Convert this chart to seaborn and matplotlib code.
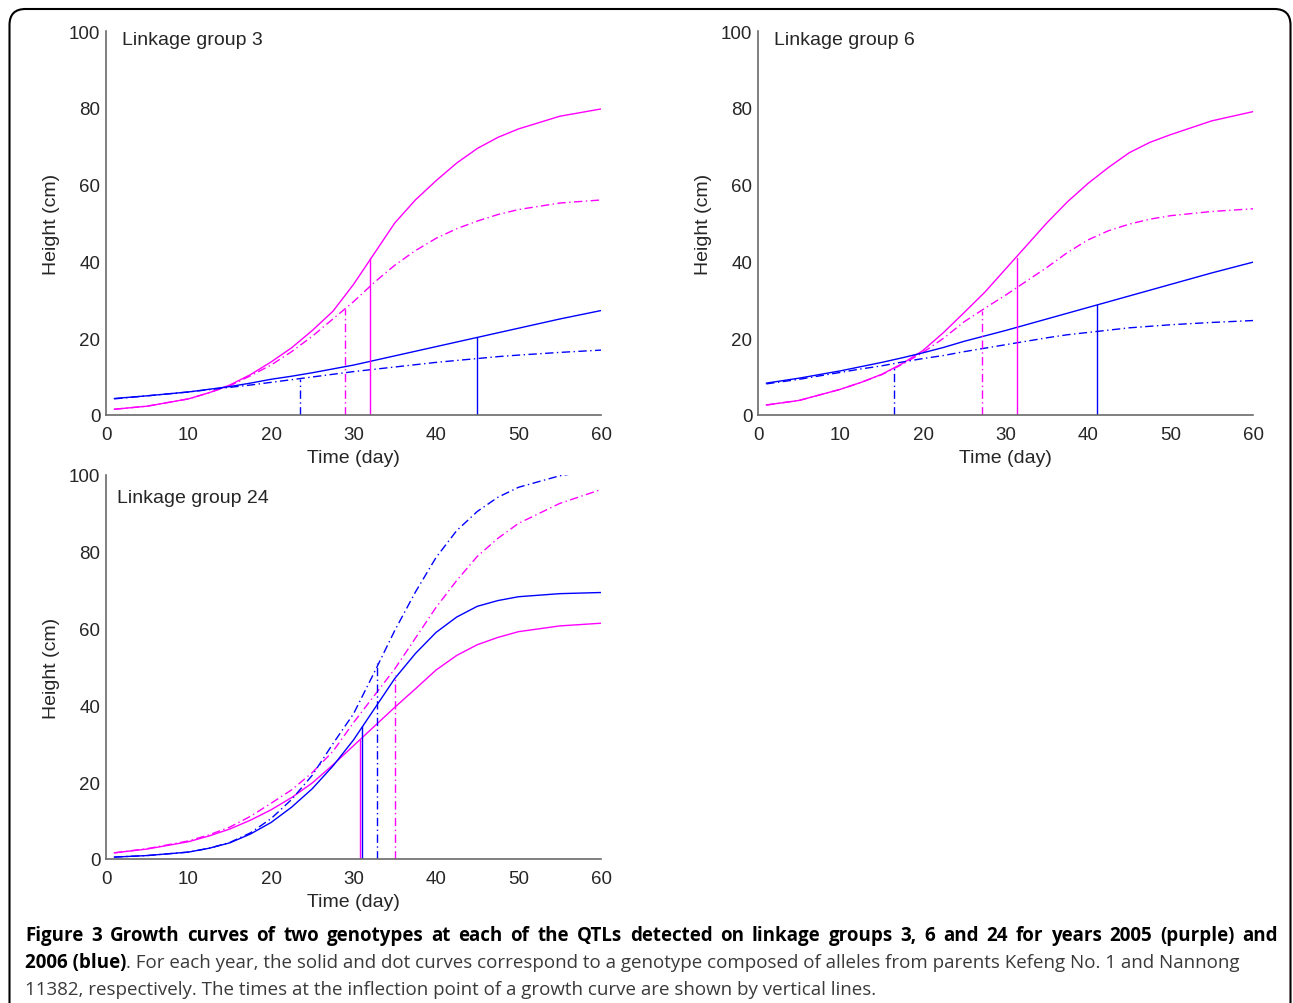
import pandas as pd
import matplotlib
matplotlib.use("Agg")
import matplotlib.pyplot as plt
import seaborn as sns
from matplotlib.patches import FancyBboxPatch
from matplotlib.transforms import IdentityTransform

# -----------------------------
# Data (height in cm at each day)
# -----------------------------
days = [1, 5, 10, 12.5, 15, 17.5, 20, 22.5, 25, 27.5, 30, 32.5, 35, 37.5, 40, 42.5, 45, 47.5, 50, 55, 60]

# Linkage group 3
lg3_2005_kefeng = [1.5, 2.3, 4.2, 5.8, 7.8, 10.5, 13.8, 17.5, 22, 27, 34, 42, 50, 56, 61, 65.6, 69.4, 72.3, 74.5, 77.8, 79.7]
lg3_2005_nannong = [1.5, 2.3, 4.2, 5.8, 7.6, 10.2, 13, 16.5, 20.5, 25, 29.5, 34.5, 39, 42.8, 46, 48.5, 50.5, 52.2, 53.5, 55.2, 56]
lg3_2006_kefeng = [4.3, 5.0, 6.0, 6.7, 7.4, 8.3, 9.3, 10.1, 11.0, 12.0, 13.0, 14.2, 15.4, 16.6, 17.8, 19.0, 20.2, 21.4, 22.6, 25.0, 27.2]
lg3_2006_nannong = [4.2, 5.0, 6.0, 6.6, 7.2, 7.8, 8.5, 9.2, 9.9, 10.6, 11.3, 11.9, 12.5, 13.1, 13.7, 14.2, 14.7, 15.2, 15.6, 16.3, 16.9]

# Linkage group 6
lg6_2005_kefeng = [2.6, 3.8, 6.7, 8.5, 10.6, 13.4, 16.8, 21.5, 26.7, 32, 38, 44, 50, 55.5, 60.3, 64.5, 68.3, 71, 73, 76.6, 79]
lg6_2005_nannong = [2.6, 3.8, 6.7, 8.5, 10.5, 13.2, 16.3, 20, 24.3, 27.8, 31.2, 34.8, 38.4, 42.3, 45.6, 48, 49.7, 51, 51.9, 53, 53.7]
lg6_2006_kefeng = [8.3, 9.6, 11.5, 12.6, 13.7, 14.9, 16.2, 17.6, 19.2, 20.6, 22, 23.5, 25, 26.5, 28, 29.5, 31, 32.5, 34, 37, 39.8]
lg6_2006_nannong = [8.1, 9.3, 11.1, 12.0, 12.8, 13.8, 14.7, 15.5, 16.5, 17.4, 18.3, 19.2, 20.1, 20.9, 21.5, 22.1, 22.7, 23.1, 23.5, 24.1, 24.6]

# Linkage group 24
lg24_2005_kefeng = [1.6, 2.6, 4.5, 6.0, 7.8, 10.1, 12.8, 16, 19.8, 24.5, 29.5, 34.5, 39.5, 44.3, 49.2, 53, 55.8, 57.7, 59.2, 60.7, 61.4]
lg24_2005_nannong = [1.6, 2.7, 4.7, 6.3, 8.3, 11.1, 14.5, 18, 22.5, 28, 35.5, 42.5, 49.5, 57.5, 65.5, 72.5, 78.8, 83.5, 87.4, 92.6, 96.2]
lg24_2006_kefeng = [0.5, 0.9, 1.8, 2.8, 4.2, 6.5, 9.5, 13.5, 18.3, 24.2, 31, 39, 47, 53.5, 59, 63, 65.8, 67.3, 68.3, 69.1, 69.4]
lg24_2006_nannong = [0.5, 0.9, 1.8, 2.8, 4.3, 6.8, 10.5, 15.5, 21.8, 30, 37.8, 48.5, 59.5, 69.5, 78.5, 85.5, 90.5, 94.2, 96.8, 99.8, 101.5]

# inflection points, order: 2005 Kefeng, 2005 Nannong, 2006 Kefeng, 2006 Nannong
lg3_infl_days = [32, 29, 45, 23.5]
lg3_infl_heights = [41, 27.5, 20.2, 9.5]
lg6_infl_days = [31.4, 27.1, 41.1, 16.5]
lg6_infl_heights = [41, 27, 28.6, 13]
lg24_infl_days = [30.8, 35, 31, 32.9]
lg24_infl_heights = [31, 48, 34.7, 51]

years = ["2005", "2005", "2006", "2006"]
genotypes = ["Kefeng No. 1", "Nannong 11382", "Kefeng No. 1", "Nannong 11382"]

panels = [
    ("Linkage group 3", [lg3_2005_kefeng, lg3_2005_nannong, lg3_2006_kefeng, lg3_2006_nannong],
     lg3_infl_days, lg3_infl_heights),
    ("Linkage group 6", [lg6_2005_kefeng, lg6_2005_nannong, lg6_2006_kefeng, lg6_2006_nannong],
     lg6_infl_days, lg6_infl_heights),
    ("Linkage group 24", [lg24_2005_kefeng, lg24_2005_nannong, lg24_2006_kefeng, lg24_2006_nannong],
     lg24_infl_days, lg24_infl_heights),
]

# -----------------------------
# Style
# -----------------------------
year_colors = {"2005": "#ff00ff", "2006": "#0000ff"}
dashdot = (6, 2.5, 1, 2.5)
geno_dashes = {"Kefeng No. 1": "", "Nannong 11382": dashdot}

sns.set_style("white")
plt.rcParams["font.family"] = ["Liberation Sans", "DejaVu Sans"]
spine_col = "#6a6a6a"

W, H = 1293, 1004
fig = plt.figure(figsize=(W / 100, H / 100), dpi=100)

ax_rects = [
    (106 / W, 1 - 416 / H, 495 / W, 384 / H),
    (758 / W, 1 - 416 / H, 495 / W, 384 / H),
    (106 / W, 1 - 860 / H, 495 / W, 384 / H),
]
title_pos = [(0.032, 0.999), (0.032, 0.999), (0.022, 0.964)]

for (title, series, infl_d, infl_h), rect, tpos in zip(panels, ax_rects, title_pos):
    ax = fig.add_axes(rect)
    rows = []
    for vals, yr, gt in zip(series, years, genotypes):
        for d, v in zip(days, vals):
            rows.append({"day": d, "height": v, "year": yr, "genotype": gt})
    df = pd.DataFrame(rows)
    sns.lineplot(data=df, x="day", y="height", hue="year", style="genotype",
                 palette=year_colors, dashes=geno_dashes, estimator=None,
                 sort=False, linewidth=1.0, legend=False, ax=ax)

    for d, h, yr, gt in zip(infl_d, infl_h, years, genotypes):
        ls = "-" if gt == "Kefeng No. 1" else (0, dashdot)
        ax.plot([d, d], [0, h], color=year_colors[yr], linestyle=ls, linewidth=1.0)

    ax.set_xlim(0, 60)
    ax.set_ylim(0, 100)
    ax.set_xticks(range(0, 61, 10))
    ax.set_yticks(range(0, 101, 20))
    ax.tick_params(axis="x", direction="in", length=6.5, width=1, color=spine_col,
                   labelsize=13.5, pad=8)
    ax.tick_params(axis="y", direction="in", length=5, width=1, color=spine_col,
                   labelsize=13.5, pad=4)
    for s in ["top", "right"]:
        ax.spines[s].set_visible(False)
    for s in ["left", "bottom"]:
        ax.spines[s].set_color(spine_col)
        ax.spines[s].set_linewidth(1.2)
    ax.set_xlabel("Time (day)", fontsize=14)
    ax.set_ylabel("Height (cm)", fontsize=14)
    ax.xaxis.set_label_coords(0.5, -0.088)
    ax.yaxis.set_label_coords(-0.093, 0.5)
    ax.text(tpos[0], tpos[1], title, transform=ax.transAxes, fontsize=14,
            ha="left", va="top")
    ax.patch.set_alpha(0)

# -----------------------------
# Caption
# -----------------------------
cap_font = ["Open Sans", "DejaVu Sans"]
cap_size = 13.5
x0 = 25 / W
bold1 = ("Figure 3 Growth curves of two genotypes at each of the QTLs detected on "
         "linkage groups 3, 6 and 24 for years 2005 (purple) and")
bold2 = "2006 (blue)"
rest2 = (". For each year, the solid and dot curves correspond to a genotype composed "
         "of alleles from parents Kefeng No. 1 and Nannong")
line3 = ("11382, respectively. The times at the inflection point of a growth curve "
         "are shown by vertical lines.")

# first line is justified to the full text width
words = bold1.split(" ")
word_txt = [fig.text(x0, 1 - 936 / H, w, family=cap_font, fontsize=cap_size,
                     fontweight="bold", color="black", va="center") for w in words]
t2 = fig.text(x0, 1 - 963 / H, bold2, family=cap_font, fontsize=cap_size, fontweight="bold",
              color="black", va="center")
fig.text(x0, 1 - 990 / H, line3, family=cap_font, fontsize=cap_size, color="#3a3a3a",
         va="center")
fig.canvas.draw()
renderer = fig.canvas.get_renderer()
widths = [t.get_window_extent(renderer).width for t in word_txt]
gap = (1278 - 25 - sum(widths)) / (len(words) - 1)
xp = 25
for t, w in zip(word_txt, widths):
    t.set_x(xp / W)
    xp += w + gap
bb = t2.get_window_extent(renderer)
fig.text(bb.x1 / W, 1 - 963 / H, rest2, family=cap_font, fontsize=cap_size,
         color="#3a3a3a", va="center")

# rounded frame around the whole figure
frame = FancyBboxPatch((9.5, -30), 1281, 1004 - 10 + 30,
                       boxstyle="round,pad=0,rounding_size=16",
                       transform=IdentityTransform(), fill=False,
                       edgecolor="black", linewidth=1.5)
fig.add_artist(frame)

fig.savefig("out.png", dpi=100)
